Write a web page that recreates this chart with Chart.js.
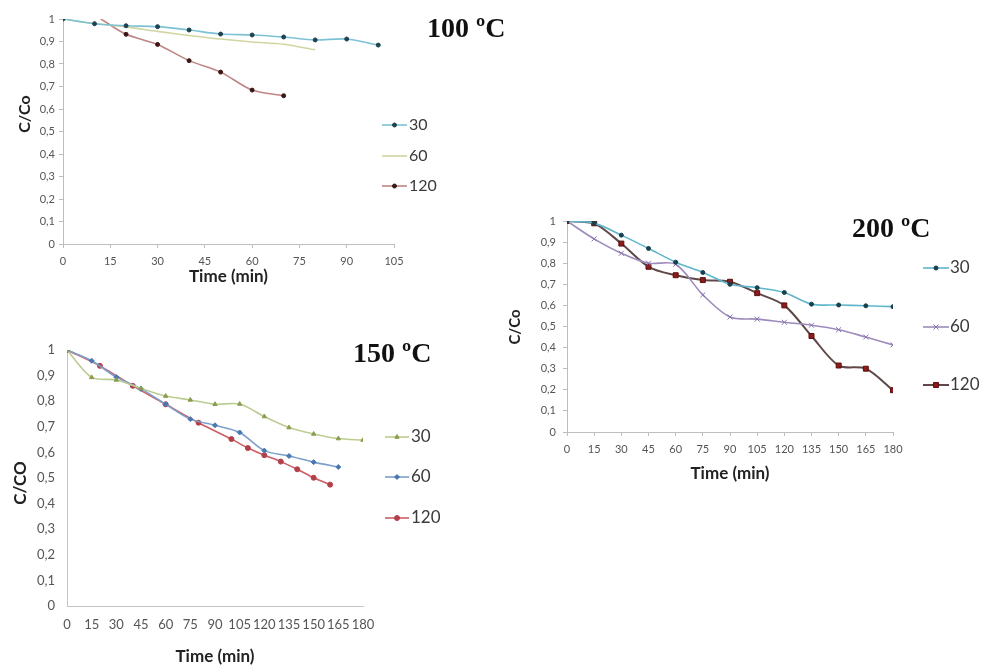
<!DOCTYPE html>
<html>
<head>
<meta charset="utf-8">
<title>C/Co vs time</title>
<script src="https://cdn.jsdelivr.net/npm/chart.js@4.4.1/dist/chart.umd.min.js"></script>
<style>
  html, body { margin: 0; padding: 0; background: #fff; }
  body { width: 981px; height: 665px; position: relative; overflow: hidden; }
  .panel { position: absolute; }
  .panel canvas { display: block; }
  .temp {
    position: absolute;
    font-family: 'Liberation Serif', 'Times New Roman', serif;
    font-weight: bold;
    font-size: 28px;
    line-height: 1;
    color: #111;
    white-space: nowrap;
  }
</style>
</head>
<body>
<div class="panel" style="left:0;top:0"><canvas id="c100" width="440" height="295"></canvas></div>
<div class="panel" style="left:0;top:310px"><canvas id="c150" width="440" height="355"></canvas></div>
<div class="panel" style="left:495px;top:200px"><canvas id="c200" width="486" height="295"></canvas></div>

<div class="temp" style="left:427px;top:14px">100 ºC</div>
<div class="temp" style="left:353px;top:339px">150 ºC</div>
<div class="temp" style="left:852px;top:214px">200 ºC</div>

<script>
// ---- 100 °C ----
const t100_30 = [0, 10, 20, 30, 40, 50, 60, 70, 80, 90, 100];
const c100_30 = [1, 0.979, 0.97, 0.966, 0.951, 0.933, 0.929, 0.92, 0.907, 0.911, 0.884];
const t100_60 = [0, 10, 20, 30, 40, 50, 60, 70, 80];
const c100_60 = [1, 0.98, 0.965, 0.945, 0.927, 0.911, 0.898, 0.888, 0.863];
const t100_120 = [12, 20, 30, 40, 50, 60, 70];
const c100_120 = [1, 0.932, 0.887, 0.815, 0.764, 0.684, 0.659];

// ---- 150 °C ----
const t150_30 = [0, 15, 30, 45, 60, 75, 90, 105, 120, 135, 150, 165, 180];
const c150_30 = [1, 0.893, 0.883, 0.85, 0.82, 0.805, 0.788, 0.789, 0.74, 0.697, 0.672, 0.654, 0.648];
const t150_60 = [0, 15, 30, 45, 60, 75, 90, 105, 120, 135, 150, 165];
const c150_60 = [1, 0.958, 0.894, 0.848, 0.788, 0.73, 0.706, 0.678, 0.607, 0.586, 0.562, 0.543];
const t150_120 = [0, 20, 40, 60, 80, 100, 110, 120, 130, 140, 150, 160];
const c150_120 = [1, 0.938, 0.86, 0.788, 0.716, 0.652, 0.617, 0.589, 0.564, 0.534, 0.501, 0.474];

// ---- 200 °C ----
const t200 = [0, 15, 30, 45, 60, 75, 90, 105, 120, 135, 150, 165, 180];
const c200_30 = [1, 0.99, 0.933, 0.87, 0.805, 0.756, 0.7, 0.684, 0.661, 0.606, 0.602, 0.598, 0.594];
const c200_60 = [1, 0.915, 0.847, 0.8, 0.795, 0.65, 0.545, 0.535, 0.52, 0.506, 0.485, 0.45, 0.413];
const c200_120 = [1, 0.989, 0.893, 0.783, 0.743, 0.72, 0.712, 0.658, 0.6, 0.455, 0.315, 0.3, 0.198];

// axis ticks
const xTicks105 = [0, 15, 30, 45, 60, 75, 90, 105];
const xTicks180 = [0, 15, 30, 45, 60, 75, 90, 105, 120, 135, 150, 165, 180];
const yTicks = [0, 0.1, 0.2, 0.3, 0.4, 0.5, 0.6, 0.7, 0.8, 0.9, 1];
const yTickLabels = ['0', '0,1', '0,2', '0,3', '0,4', '0,5', '0,6', '0,7', '0,8', '0,9', '1'];

Chart.defaults.font.family = 'Lato, "Noto Sans", sans-serif';

function pts(xs, ys) {
  return xs.map((x, i) => ({ x, y: ys[i] }));
}

// legend drawn to the right of the plot, one row per series
const sideLegend = {
  id: 'sideLegend',
  afterDraw(chart, args, opts) {
    const ctx = chart.ctx;
    chart.data.datasets.forEach((ds, i) => {
      const y = opts.ys[i];
      ctx.save();
      ctx.strokeStyle = ds.borderColor;
      ctx.lineWidth = ds.borderWidth;
      ctx.beginPath();
      ctx.moveTo(opts.x1, y);
      ctx.lineTo(opts.x2, y);
      ctx.stroke();
      const r = Array.isArray(ds.pointRadius) ? ds.pointRadius[ds.pointRadius.length - 1] : ds.pointRadius;
      if (r > 0) {
        ctx.fillStyle = ds.pointBackgroundColor;
        ctx.strokeStyle = ds.pointBorderColor;
        ctx.lineWidth = ds.pointBorderWidth || 1;
        Chart.helpers.drawPoint(ctx, { pointStyle: ds.pointStyle, radius: r, rotation: 0, borderWidth: ctx.lineWidth }, (opts.x1 + opts.x2) / 2, y);
      }
      ctx.fillStyle = '#3a3a3a';
      ctx.font = opts.font;
      ctx.textBaseline = 'middle';
      ctx.textAlign = 'left';
      ctx.fillText(ds.label, opts.tx, y);
      ctx.restore();
    });
  }
};

// rotated y-axis caption, centred on a given point
const yCaption = {
  id: 'yCaption',
  afterDraw(chart, args, opts) {
    const ctx = chart.ctx;
    ctx.save();
    ctx.translate(opts.x, opts.y);
    ctx.rotate(-Math.PI / 2);
    ctx.fillStyle = '#222';
    ctx.font = opts.font;
    ctx.textAlign = 'center';
    ctx.textBaseline = 'middle';
    ctx.fillText(opts.text, 0, 0);
    ctx.restore();
  }
};

function series(label, data, color, marker) {
  return Object.assign({
    label,
    data,
    borderColor: color,
    borderWidth: 1.6,
    tension: 0.3,
    fill: false,
    pointStyle: 'circle',
    pointRadius: 0,
    pointBorderWidth: 1
  }, marker || {});
}

function makePanel(id, g, xTicks, datasets) {
  const padLeft = 8;
  new Chart(document.getElementById(id), {
    type: 'line',
    data: { datasets },
    options: {
      responsive: false,
      animation: false,
      events: [],
      layout: { padding: { left: padLeft, top: g.top, right: g.w - g.right, bottom: 0 } },
      plugins: {
        legend: { display: false },
        tooltip: { enabled: false },
        sideLegend: g.legend,
        yCaption: g.yTitle
      },
      scales: {
        x: {
          type: 'linear',
          min: 0,
          max: xTicks[xTicks.length - 1],
          afterBuildTicks: s => { s.ticks = xTicks.map(v => ({ value: v })); },
          afterFit: s => { s.height = g.h - g.bottom; },
          border: { display: true, color: g.axisColor, width: 1 },
          grid: { display: true, drawOnChartArea: false, drawTicks: g.xTickLen > 0, tickLength: g.xTickLen, tickColor: g.axisColor },
          ticks: { color: '#555', font: { size: g.tickSize }, padding: g.xPad, maxRotation: 0, autoSkip: false },
          title: {
            display: true,
            text: 'Time (min)',
            color: '#222',
            font: { size: g.xTitleSize, weight: 'bold', lineHeight: 1 },
            padding: { top: 0, bottom: g.h - g.xTitleY - g.xTitleSize / 2 }
          }
        },
        y: {
          min: 0,
          max: 1,
          afterBuildTicks: s => { s.ticks = yTicks.map(v => ({ value: v })); },
          afterFit: s => { s.width = g.left - padLeft; },
          border: { display: true, color: g.axisColor, width: 1 },
          grid: { display: true, drawOnChartArea: false, drawTicks: g.yTickLen > 0, tickLength: g.yTickLen, tickColor: g.axisColor },
          ticks: { color: '#555', font: { size: g.tickSize }, padding: g.yPad, callback: (v, i) => yTickLabels[i] }
        }
      }
    },
    plugins: [sideLegend, yCaption]
  });
}

// 100 °C
makePanel('c100', {
  w: 440, h: 295, left: 63, right: 394, top: 19, bottom: 244,
  xTitleY: 277, xTitleSize: 17,
  tickSize: 11, xTickLen: 4, yTickLen: 4, xPad: 7, yPad: 4, axisColor: '#bdbdbd',
  yTitle: { text: 'C/Co', x: 25, y: 114, font: 'bold 16px Lato, sans-serif' },
  legend: { x1: 382, x2: 407, tx: 409, ys: [125, 156, 186], font: '16px Lato, sans-serif' }
}, xTicks105, [
  series('30', pts(t100_30, c100_30), '#7cc2d6', { pointRadius: 2, pointBackgroundColor: '#1d4350', pointBorderColor: '#1d4350' }),
  series('60', pts(t100_60, c100_60), '#d2d5a2'),
  series('120', pts(t100_120, c100_120), '#c08585', { pointRadius: [0, 2, 2, 2, 2, 2, 2], pointBackgroundColor: '#3c1515', pointBorderColor: '#3c1515' })
]);

// 150 °C
makePanel('c150', {
  w: 440, h: 355, left: 67, right: 363, top: 40, bottom: 296,
  xTitleY: 347, xTitleSize: 17,
  tickSize: 13, xTickLen: 0, yTickLen: 0, xPad: 11, yPad: 12, axisColor: '#c4c4c4',
  yTitle: { text: 'C/CO', x: 21, y: 173, font: 'bold 17px Lato, sans-serif' },
  legend: { x1: 385, x2: 409, tx: 411, ys: [127, 167, 208], font: '17px Lato, sans-serif' }
}, xTicks180, [
  series('30', pts(t150_30, c150_30), '#bccd92', { pointStyle: 'triangle', pointRadius: 2.5, pointBackgroundColor: '#8a9c4e', pointBorderColor: '#8a9c4e' }),
  series('60', pts(t150_60, c150_60), '#7c9fca', { pointStyle: 'rectRot', pointRadius: 2.5, pointBackgroundColor: '#4a77b0', pointBorderColor: '#4a77b0' }),
  series('120', pts(t150_120, c150_120), '#cc5e63', { pointRadius: 2.5, pointBackgroundColor: '#b2404a', pointBorderColor: '#b2404a' })
]);

// 200 °C
makePanel('c200', {
  w: 486, h: 295, left: 72, right: 398, top: 21, bottom: 232,
  xTitleY: 274, xTitleSize: 17,
  tickSize: 11, xTickLen: 4, yTickLen: 4, xPad: 7, yPad: 7, axisColor: '#bdbdbd',
  yTitle: { text: 'C/Co', x: 20, y: 127, font: 'bold 15px Lato, sans-serif' },
  legend: { x1: 428, x2: 454, tx: 455, ys: [68, 127, 185], font: '17px Lato, sans-serif' }
}, xTicks180, [
  series('30', pts(t200, c200_30), '#5fb6cc', { pointRadius: 2, pointBackgroundColor: '#173f4c', pointBorderColor: '#173f4c' }),
  series('60', pts(t200, c200_60), '#9d8cbb', { pointStyle: 'crossRot', pointRadius: 3.5, pointBackgroundColor: '#8a72ad', pointBorderColor: '#8a72ad' }),
  series('120', pts(t200, c200_120), '#5e4848', { borderWidth: 2, pointStyle: 'rect', pointRadius: 3.5, pointBackgroundColor: '#8e1b1b', pointBorderColor: '#5a0e0e' })
]);
</script>
</body>
</html>
